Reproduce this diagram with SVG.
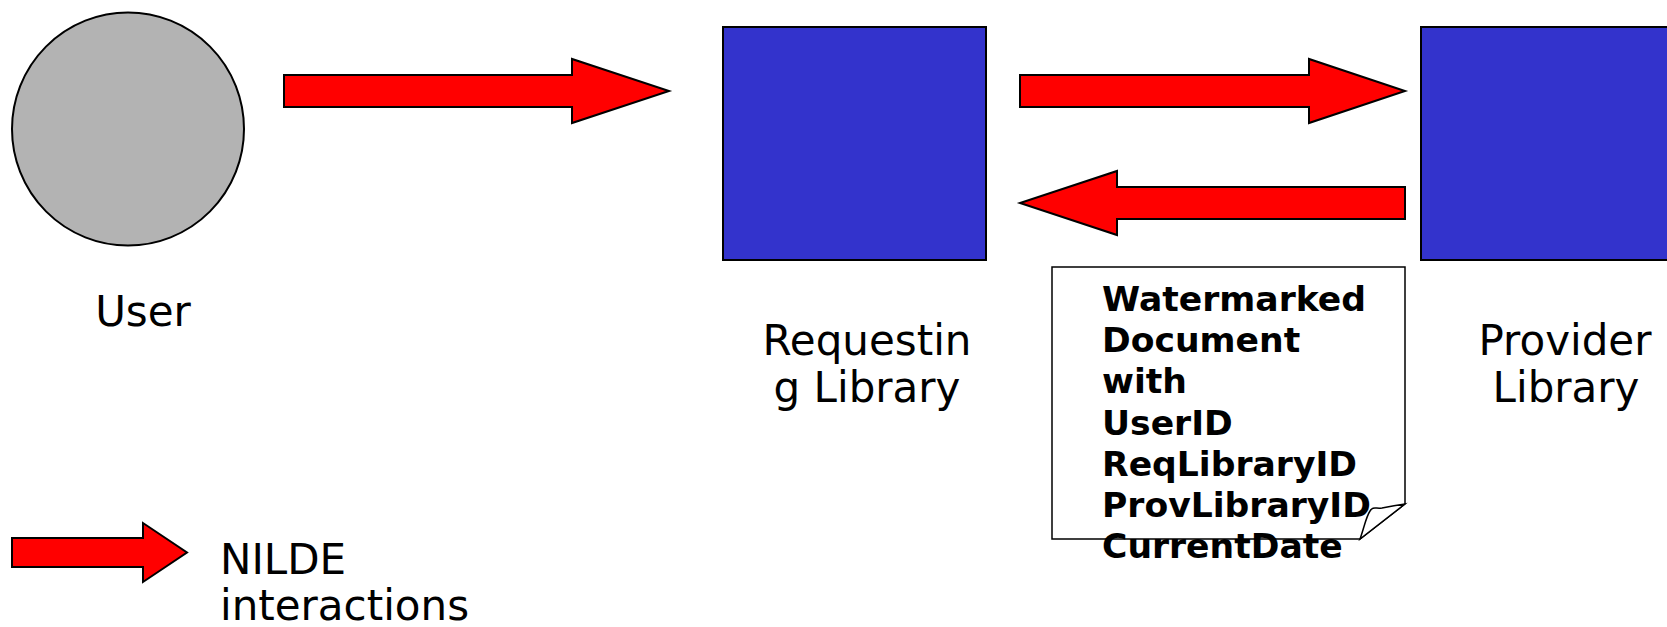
<svg xmlns="http://www.w3.org/2000/svg" width="1667" height="627" viewBox="0 0 1667 627">
<style>
.lbl{font-family:"DejaVu Sans","Liberation Sans",sans-serif;font-size:42px;fill:#000}
.doc{font-family:"DejaVu Sans","Liberation Sans",sans-serif;font-size:34.6px;font-weight:bold;fill:#000}
.lib{fill:#3333cc;stroke:#000;stroke-width:2}
.arrow{fill:#ff0000;stroke:#000;stroke-width:2;stroke-linejoin:miter}
</style>
<rect width="1667" height="627" fill="#fff"/>
<g id="user">
<ellipse cx="128" cy="129" rx="116" ry="116.5" fill="#b3b3b3" stroke="#000" stroke-width="2"/>
<text class="lbl" x="143" y="326" text-anchor="middle">User</text>
</g>
<g id="requesting-library">
<rect class="lib" x="723" y="27" width="263" height="233"/>
<text class="lbl" x="867" y="355" text-anchor="middle">Requestin</text>
<text class="lbl" x="867" y="402" text-anchor="middle">g Library</text>
</g>
<g id="provider-library">
<rect class="lib" x="1421" y="27" width="260" height="233"/>
<text class="lbl" x="1565" y="355" text-anchor="middle">Provider</text>
<text class="lbl" x="1566" y="402" text-anchor="middle">Library</text>
</g>
<g id="document">
<path d="M1052,267 H1405 V504 L1360,539 H1052 Z" fill="#fff" stroke="#000" stroke-width="1.5"/>
<path d="M1360,539 C1364,528 1366,517 1370,511 C1373,506 1376,509 1382,508 C1392,506 1398,505 1405,504 Z" fill="#fff" stroke="#000" stroke-width="1.5"/>
<text class="doc" x="1102" y="311">Watermarked</text>
<text class="doc" x="1102" y="352">Document</text>
<text class="doc" x="1102" y="393">with</text>
<text class="doc" x="1102" y="434.5">UserID</text>
<text class="doc" x="1102" y="475.5">ReqLibraryID</text>
<text class="doc" x="1102" y="516.5">ProvLibraryID</text>
<text class="doc" x="1102" y="557.5">CurrentDate</text>
</g>
<g id="legend">
<path class="arrow" d="M12,538 H143 V523 L187,552.5 L143,582 V567 H12 Z"/>
<text class="lbl" x="220" y="573.5">NILDE</text>
<text class="lbl" x="220" y="620">interactions</text>
</g>
<g id="connectors">
<path class="arrow" d="M284,75 H572 V59 L669,91 L572,123 V107 H284 Z"/>
<path class="arrow" d="M1020,75 H1309 V59 L1405,91 L1309,123 V107 H1020 Z"/>
<path class="arrow" d="M1405,187 H1117 V171 L1020,203 L1117,235 V219 H1405 Z"/>
</g>
</svg>
